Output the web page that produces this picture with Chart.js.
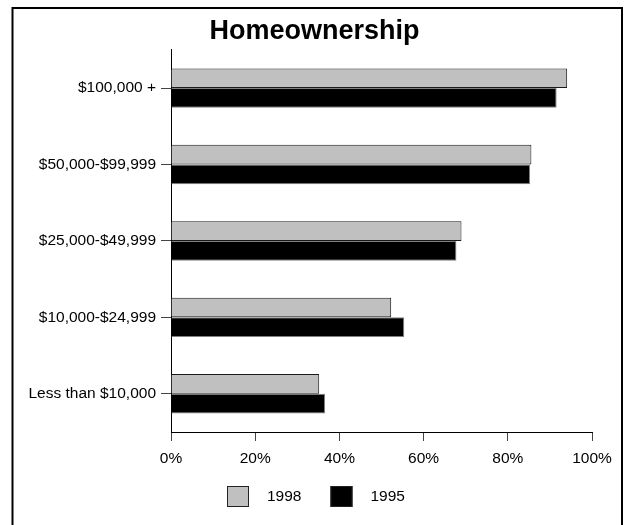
<!DOCTYPE html>
<html>
<head>
<meta charset="utf-8">
<script src="https://cdn.jsdelivr.net/npm/chart.js@4.4.1/dist/chart.umd.min.js"></script>
<style>
  html, body { margin: 0; padding: 0; background: #fff; }
  canvas { display: block; }
</style>
</head>
<body>
<canvas id="homes" width="629" height="525"></canvas>
<script>
const categories = ["$100,000 +", "$50,000-$99,999", "$25,000-$49,999", "$10,000-$24,999", "Less than $10,000"];
const seriesNames = ["1998", "1995"];
const values1998 = [94.1, 85.6, 69.0, 52.3, 35.2];
const values1995 = [91.6, 85.3, 67.8, 55.4, 36.6];
const xTicks = [0, 20, 40, 60, 80, 100];

(
    function () {
        Chart.defaults.font.family = '"Liberation Sans", Arial, sans-serif';
        const tickFont = { size: 15.5 };

        // white page with the black frame round it
        const frame = {
            id: 'frame',
            beforeDraw(chart) {
                const ctx = chart.ctx;
                ctx.save();
                ctx.fillStyle = '#fff';
                ctx.fillRect(0, 0, chart.width, chart.height);
                ctx.strokeStyle = '#000';
                ctx.lineWidth = 2;
                ctx.strokeRect(12.5, 8, 609.5, 600);
                ctx.restore();
            }
        };

        // legend with the wide gaps of the original
        const legendRow = {
            id: 'legendRow',
            afterDraw(chart) {
                const ctx = chart.ctx;
                const sets = chart.data.datasets;
                const box = 22, gap = 18, spacing = 29;
                ctx.save();
                ctx.font = '15.5px "Liberation Sans", Arial, sans-serif';
                const widths = sets.map(d => ctx.measureText(d.label).width);
                const total = widths.reduce((a, w) => a + box + gap + w, 0) + spacing * (sets.length - 1);
                let x = Math.round((chart.width - total) / 2) + 1;
                const y = Math.round(chart.chartArea.bottom) + 54;
                sets.forEach((d, i) => {
                    ctx.fillStyle = d.backgroundColor;
                    ctx.fillRect(x, y, box, 21);
                    ctx.strokeStyle = '#222';
                    ctx.lineWidth = 1;
                    ctx.strokeRect(x + 0.5, y + 0.5, box - 1, 20);
                    ctx.fillStyle = '#000';
                    ctx.textBaseline = 'middle';
                    ctx.textAlign = 'left';
                    ctx.fillText(d.label, x + box + gap, y + 11);
                    x += box + gap + widths[i] + spacing;
                });
                ctx.restore();
            }
        };

        new Chart(
            document.getElementById("homes"),
            {
                type: 'bar',
                data: {
                    labels: categories,
                    datasets: [
                        {
                            label: seriesNames[0],
                            data: values1998,
                            backgroundColor: '#c0c0c0',
                            borderColor: '#1a1a1a',
                            borderWidth: 1
                        },
                        {
                            label: seriesNames[1],
                            data: values1995,
                            backgroundColor: '#000000',
                            borderColor: '#808080',
                            borderWidth: 1
                        }
                    ]
                },
                options: {
                    indexAxis: 'y',
                    responsive: false,
                    animation: false,
                    categoryPercentage: 0.515,
                    barPercentage: 1,
                    layout: {
                        padding: { left: 20, right: 20, top: 0, bottom: 0 }
                    },
                    scales: {
                        x: {
                            min: 0,
                            max: 100,
                            afterFit: s => { s.height = 93; s.paddingRight = 37; },
                            afterBuildTicks: s => { s.ticks = xTicks.map(v => ({ value: v })); },
                            border: { color: '#000', width: 1 },
                            grid: { drawOnChartArea: false, tickLength: 9, color: '#444' },
                            ticks: { color: '#000', font: tickFont, padding: 8, callback: v => v + '%' }
                        },
                        y: {
                            afterFit: s => { s.width = 151; },
                            border: { color: '#000', width: 1 },
                            grid: { drawOnChartArea: false, offset: false, tickLength: 10, color: '#444' },
                            ticks: { color: '#000', font: tickFont, padding: 5 }
                        }
                    },
                    plugins: {
                        title: {
                            display: true,
                            text: "Homeownership",
                            color: '#000',
                            font: { size: 27, weight: 'bold' },
                            padding: { top: 15.5, bottom: 2 }
                        },
                        legend: { display: false },
                        tooltip: { enabled: false }
                    }
                },
                plugins: [frame, legendRow]
            }
        );
    })();
</script>
</body>
</html>
